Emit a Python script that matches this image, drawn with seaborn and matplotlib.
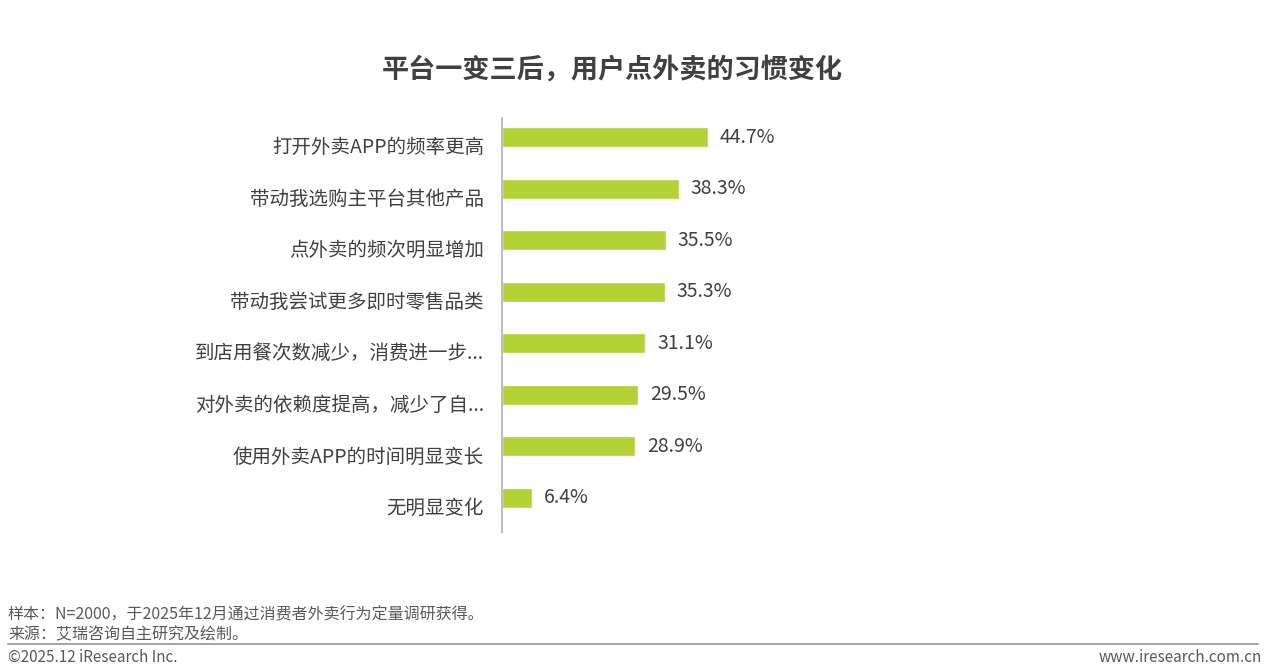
import numpy as np
import pandas as pd
import seaborn as sns
import matplotlib.pyplot as plt
import matplotlib.transforms as mtransforms

# habit changes after platform shake-up
items = ['打开外卖APP的频率更高', '带动我选购主平台其他产品', '点外卖的频次明显增加',
         '带动我尝试更多即时零售品类', '到店用餐次数减少，消费进一步...',
         '对外卖的依赖度提高，减少了自...', '使用外卖APP的时间明显变长', '无明显变化']
shares = [44.7, 38.3, 35.5, 35.3, 31.1, 29.5, 28.9, 6.4]
value_labels = ['44.7%', '38.3%', '35.5%', '35.3%', '31.1%', '29.5%', '28.9%', '6.4%']

df = pd.DataFrame({'item': items, 'share': shares})

sns.set_style('white')
plt.rcParams['font.family'] = ['Noto Sans CJK SC', 'DejaVu Sans']

txt = '#404040'
bar_color = '#B2D235'

fig = plt.figure(figsize=(12.7, 6.71), dpi=100)
# axes: x 502..963 px, y 118..532 px (from top)
ax = fig.add_axes([502 / 1270, 1 - 532 / 671, 461 / 1270, 414 / 671])

sns.barplot(data=df, x='share', y='item', color=bar_color, width=0.39,
            saturation=1, ax=ax, orient='h')
ax.set_xlim(0, 100)
ax.set_ylim(7.66, -0.37)
ax.set_xlabel('')
ax.set_ylabel('')
ax.set_xticks([])

for s in ['top', 'right', 'bottom']:
    ax.spines[s].set_visible(False)
ax.spines['left'].set_color('#BFBFBF')
ax.spines['left'].set_linewidth(1.5)

ax.tick_params(axis='y', length=0, pad=13, labelsize=14, labelcolor=txt)
offset = mtransforms.ScaledTranslation(0, -8 / 100, fig.dpi_scale_trans)
for lab in ax.get_yticklabels():
    lab.set_transform(lab.get_transform() + offset)

for i, (v, t) in enumerate(zip(shares, value_labels)):
    ax.text(v + 2.6, i, t, va='center', ha='left', fontsize=14, color=txt)

fig.text(612 / 1270, 1 - 70 / 671, '平台一变三后，用户点外卖的习惯变化',
         ha='center', va='center', fontsize=19.5, fontweight='bold', color=txt)

foot = '#595959'
fig.text(8 / 1270, 1 - 615 / 671, '样本：N=2000，于2025年12月通过消费者外卖行为定量调研获得。',
         ha='left', va='center', fontsize=11.5, color=foot)
fig.text(8 / 1270, 1 - 635 / 671, '来源：艾瑞咨询自主研究及绘制。',
         ha='left', va='center', fontsize=11.5, color=foot)
fig.add_artist(plt.Line2D([8 / 1270, 1258 / 1270], [1 - 644 / 671, 1 - 644 / 671],
                          color='#A6A6A6', linewidth=1.5))
fig.text(8 / 1270, 1 - 657 / 671, '©2025.12 iResearch Inc.',
         ha='left', va='center', fontsize=11, color=foot)
fig.text(1262 / 1270, 1 - 657 / 671, 'www.iresearch.com.cn',
         ha='right', va='center', fontsize=11, color=foot)

fig.savefig('out.png', dpi=100)
